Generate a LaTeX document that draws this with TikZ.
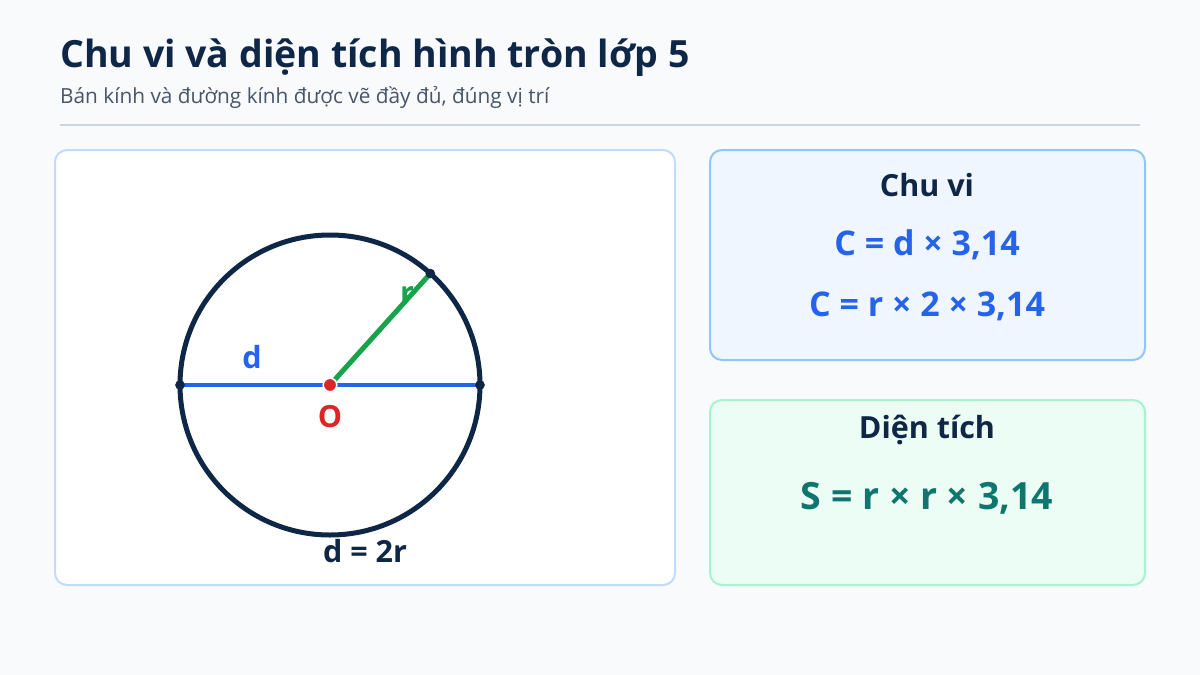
\documentclass[tikz,border=0pt]{standalone}
\usepackage{fontspec}
\setmainfont{Open Sans}
\usepackage{xcolor}
\usetikzlibrary{calc}
\definecolor{bgpage}{HTML}{F8FAFC}
\definecolor{navy}{HTML}{0F2747}
\definecolor{subgray}{HTML}{475569}
\definecolor{rulegray}{HTML}{CBD5E1}
\definecolor{dblue}{HTML}{2563EB}
\definecolor{rgreen}{HTML}{16A34A}
\definecolor{ored}{HTML}{DC2626}
\definecolor{steal}{HTML}{0F766E}
\definecolor{panelline}{HTML}{BFDBFE}
\definecolor{cvfill}{HTML}{EFF6FF}
\definecolor{cvline}{HTML}{93C5FD}
\definecolor{dtfill}{HTML}{ECFDF5}
\definecolor{dtline}{HTML}{A7F3D0}

\begin{document}
\begin{tikzpicture}[x=1pt,y=-1pt]
	\tikzstyle{every node}+=[inner sep=0pt]
	\tikzstyle{panel}=[rounded corners=12pt,line width=2pt]
	\tikzstyle{lbl}=[font=\fontsize{30.5}{34}\selectfont\bfseries]
	\tikzstyle{formula}=[font=\fontsize{34}{40}\selectfont\bfseries,text=dblue]
	\tikzstyle{enddot}=[fill=navy,draw=navy,line width=0.5pt]
	\fill [bgpage] (0,0) rectangle (1200,675);
	\node [anchor=base west,text=navy,font=\fontsize{37.5}{44}\selectfont\bfseries] (title) at (60,67) {Chu vi và diện tích hình tròn lớp 5};
	\node [anchor=base west,text=subgray,font=\fontsize{20.8}{24}\selectfont] (subtitle) at (60,103) {Bán kính và đường kính được vẽ đầy đủ, đúng vị trí};
	\draw [rulegray,line width=1.5pt] (60,125) -- (1140,125);
	\draw [panel,draw=panelline,fill=white] (55,150) rectangle (675,585);
	\draw [panel,draw=cvline,fill=cvfill] (710,150) rectangle (1145,360);
	\draw [panel,draw=dtline,fill=dtfill] (710,400) rectangle (1145,585);
	\coordinate (O) at (330,385);
	\coordinate (A) at (180,385);
	\coordinate (B) at (480,385);
	\coordinate (R) at ($(O)+(-48:150)$);
	\draw [navy,line width=5pt] (O) circle (150);
	\node [lbl,text=rgreen] (rlabel) at (407,295) {r};
	\draw [dblue,line width=4.5pt] (A) -- (B);
	\draw [rgreen,line width=5pt] (O) -- (R);
	\fill [enddot] (A) circle (4.5);
	\fill [enddot] (B) circle (4.5);
	\fill [enddot] (R) circle (4.5);
	\draw [ored,fill=ored] (O) circle (6);
	\draw [white,line width=1.5pt] (O) circle (6.8);
	\node [lbl,text=dblue] (dlabel) at (252,357) {d};
	\node [lbl,text=ored] (olabel) at (330,417) {O};
	\node [lbl,text=navy] (dformula) at (365,551) {d = 2r};
	\node [font=\fontsize{30.5}{34}\selectfont\bfseries,text=navy] (cvtitle) at (927,185) {Chu vi};
	\node [formula] (cv1) at (927,245) {C = d × 3,14};
	\node [formula] (cv2) at (927,306) {C = r × 2 × 3,14};
	\node [font=\fontsize{30.5}{34}\selectfont\bfseries,text=navy] (dttitle) at (927,430) {Diện tích};
	\node [formula,font=\fontsize{37.5}{44}\selectfont\bfseries,text=steal] (dt1) at (927,498) {S = r × r × 3,14};
\end{tikzpicture}
\end{document}
